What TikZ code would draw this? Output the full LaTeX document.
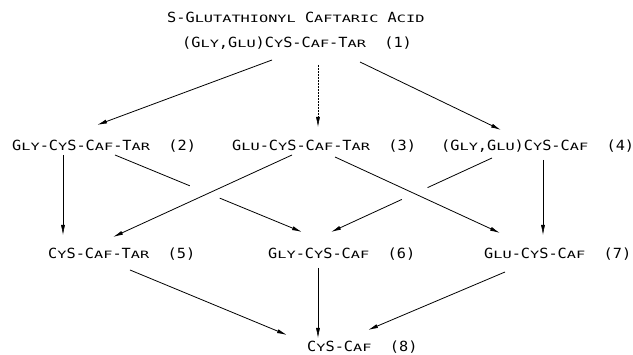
\documentclass[tikz,border=0pt]{standalone}
\usepackage{fontspec}
\usepackage{tikz}
\usetikzlibrary{arrows.meta,calc}
\newfontfamily\plotfont[FakeStretch=1.09]{DejaVu Sans Mono}
\newfontfamily\plotsmall[Scale=0.72,FakeStretch=1.514]{DejaVu Sans Mono}
\newcommand{\sml}[1]{{\plotsmall #1}}

\begin{document}
\begin{tikzpicture}[x=1pt, y=-1pt,
    lbl/.style={anchor=west, inner sep=0pt, font=\fontsize{14}{16}\plotfont},
    rxn/.style={-{Latex[length=10pt,width=4pt]}, line width=0.8pt},
    vrxn/.style={rxn, line width=0.5pt}]
        \useasboundingbox (0,0) rectangle (633,355);
        % Title and parent compound
        \node[lbl] (title) at (167,17) {S-G\sml{LUTATHIONYL} C\sml{AFTARIC} A\sml{CID}};
        \node[lbl] (n1) at (182,43) {(G\sml{LY},G\sml{LU})C\sml{Y}S-C\sml{AF}-T\sml{AR}~~(1)};
        
        % First hydrolysis products
        \node[lbl] (n2) at (12,146) {G\sml{LY}-C\sml{Y}S-C\sml{AF}-T\sml{AR}~~(2)};
        \node[lbl] (n3) at (232,146) {G\sml{LU}-C\sml{Y}S-C\sml{AF}-T\sml{AR}~~(3)};
        \node[lbl] (n4) at (441,146) {(G\sml{LY},G\sml{LU})C\sml{Y}S-C\sml{AF}~~(4)};
        
        % Second hydrolysis products
        \node[lbl] (n5) at (48,254) {C\sml{Y}S-C\sml{AF}-T\sml{AR}~~(5)};
        \node[lbl] (n6) at (268,254) {G\sml{LY}-C\sml{Y}S-C\sml{AF}~~(6)};
        \node[lbl] (n7) at (484,254) {G\sml{LU}-C\sml{Y}S-C\sml{AF}~~(7)};
        
        % Final product
        \node[lbl] (n8) at (307,347) {C\sml{Y}S-C\sml{AF}~~(8)};
        
        % Arrows from (1)
        \draw[rxn] ($(n1.west)+(90,17)$) -- ($(n2.west)+(85,-21)$);
        \draw[vrxn, densely dotted] ($(n1.west)+(136,22)$) -- ($(n3.west)+(86,-19)$);
        \draw[rxn] ($(n1.west)+(178,19)$) -- ($(n4.west)+(60,-16)$);
        
        % Arrows from (2), (3), (4)
        \draw[vrxn] ($(n2.west)+(51,9)$) -- ($(n5.west)+(15,-19)$);
        \coordinate (s26) at ($(n2.west)+(103,9)$);
        \coordinate (e26) at ($(n6.west)+(34,-22)$);
        \draw[line width=0.8pt] (s26) -- ($(s26)!.40!(e26)$);
        \draw[rxn] ($(s26)!.56!(e26)$) -- (e26);
        \draw[rxn] ($(n3.west)+(60,9)$) -- ($(n5.west)+(65,-17)$);
        \draw[rxn] ($(n3.west)+(103,11)$) -- ($(n7.west)+(16,-21)$);
        \coordinate (s46) at ($(n4.west)+(51,12)$);
        \coordinate (e46) at ($(n6.west)+(63,-22)$);
        \draw[line width=0.8pt] (s46) -- ($(s46)!.40!(e46)$);
        \draw[rxn] ($(s46)!.56!(e46)$) -- (e46);
        \draw[vrxn] ($(n4.west)+(102,14)$) -- ($(n7.west)+(59,-19)$);
        
        % Arrows to (8)
        \draw[rxn] ($(n5.west)+(82,16)$) -- ($(n8.west)+(-20,-12)$);
        \draw[vrxn] ($(n6.west)+(50,14)$) -- ($(n8.west)+(11,-9)$);
        \draw[rxn] ($(n7.west)+(21,18)$) -- ($(n8.west)+(61,-17)$);
    \end{tikzpicture}
\end{document}
